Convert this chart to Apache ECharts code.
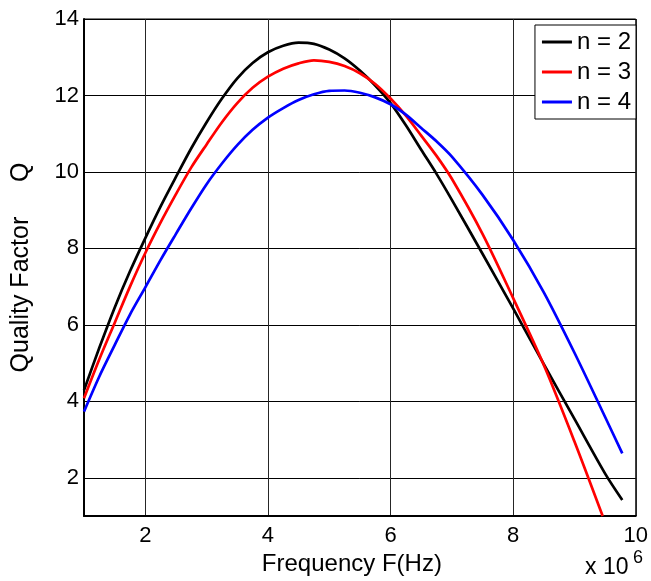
<!DOCTYPE html>
<html>
<head>
<meta charset="utf-8">
<script src="https://cdn.jsdelivr.net/npm/echarts@6/dist/echarts.min.js"></script>
<style>html,body{margin:0;padding:0;background:#fff;}#c{width:651px;height:581px;}</style>
</head>
<body>
<div id="c"></div>
<script>
// Frequency in units of 1e6 Hz
var freqN2 = [1, 1.25, 1.5, 1.75, 2, 2.25, 2.5, 2.75, 3, 3.25, 3.5, 3.75, 4, 4.25, 4.5, 4.75, 5, 5.25, 5.5, 5.75, 6, 6.25, 6.5, 6.75, 7, 7.5, 8, 8.5, 9, 9.5, 9.78];
var qN2    = [4.29, 5.4, 6.45, 7.4, 8.27, 9.1, 9.87, 10.62, 11.3, 11.92, 12.45, 12.85, 13.13, 13.3, 13.38, 13.35, 13.2, 12.97, 12.65, 12.26, 11.8, 11.22, 10.58, 9.95, 9.27, 7.86, 6.43, 4.97, 3.54, 2.11, 1.42];
var freqN3 = [1, 1.25, 1.5, 1.75, 2, 2.25, 2.5, 2.75, 3, 3.25, 3.5, 3.75, 4, 4.25, 4.5, 4.75, 5, 5.25, 5.5, 5.75, 6, 6.25, 6.5, 6.75, 7, 7.5, 8, 8.5, 9, 9.46];
var qN3    = [4.08, 5.1, 6.05, 7.0, 7.88, 8.68, 9.42, 10.12, 10.72, 11.3, 11.8, 12.2, 12.49, 12.7, 12.84, 12.92, 12.88, 12.77, 12.58, 12.3, 11.92, 11.47, 10.95, 10.42, 9.82, 8.38, 6.7, 4.95, 2.95, 1.0];
var freqN4 = [1, 1.25, 1.5, 1.75, 2, 2.25, 2.5, 2.75, 3, 3.25, 3.5, 3.75, 4, 4.25, 4.5, 4.75, 5, 5.25, 5.5, 5.75, 6, 6.25, 6.5, 6.75, 7, 7.5, 8, 8.5, 9, 9.5, 9.78];
var qN4    = [3.73, 4.65, 5.47, 6.27, 6.98, 7.7, 8.38, 9.05, 9.68, 10.22, 10.7, 11.1, 11.42, 11.67, 11.88, 12.03, 12.12, 12.13, 12.07, 11.95, 11.77, 11.5, 11.15, 10.8, 10.4, 9.4, 8.22, 6.85, 5.27, 3.59, 2.64];
var seriesNames = ['n = 2', 'n = 3', 'n = 4'];
var xTicks = [2, 4, 6, 8, 10];
var yTicks = [2, 4, 6, 8, 10, 12, 14];

function pairs(xs, ys) { return xs.map(function (x, i) { return [x, ys[i]]; }); }

var font = 'Liberation Sans, Arial, Helvetica, sans-serif';
var chart = echarts.init(document.getElementById('c'), null, {renderer: 'canvas'});
var lineSeries = function (name, data, color) {
  return {
    name: name, type: 'line', data: data, smooth: 0.3, showSymbol: false, symbol: 'none',
    lineStyle: {color: color, width: 2.7}, itemStyle: {color: color}, z: 3, animation: false
  };
};
chart.setOption({
  animation: false,
  backgroundColor: '#fff',
  textStyle: {fontFamily: font},
  grid: {left: 84, right: 11, top: 19, bottom: 65, show: true, borderColor: '#000', borderWidth: 1, containLabel: false},
  xAxis: {
    type: 'value', min: 1, max: 10,
    name: 'Frequency F(Hz)', nameLocation: 'middle', nameGap: 35,
    nameTextStyle: {fontSize: 24, color: '#000', fontFamily: font, padding: [0, 16, 0, 0]},
    axisLine: {show: true, onZero: false, lineStyle: {color: '#000', width: 2}},
    axisTick: {show: false, customValues: xTicks},
    axisLabel: {customValues: xTicks, fontSize: 22, color: '#000', margin: 9, fontFamily: font},
    splitLine: {show: true, lineStyle: {color: '#262626', width: 1}}
  },
  yAxis: {
    type: 'value', min: 1, max: 14,
    name: 'Quality Factor     Q', nameLocation: 'middle', nameGap: 50, nameRotate: 90,
    nameTextStyle: {fontSize: 25, color: '#000', fontFamily: font},
    axisLine: {show: true, onZero: false, lineStyle: {color: '#000', width: 2}},
    axisTick: {show: false, customValues: yTicks},
    axisLabel: {customValues: yTicks, fontSize: 22, color: '#000', margin: 5, fontFamily: font},
    splitLine: {show: true, lineStyle: {color: '#000', width: 1}}
  },
  legend: {
    orient: 'vertical', right: 15, top: 25,
    data: seriesNames,
    icon: 'rect', itemWidth: 30, itemHeight: 3, itemGap: 6,
    backgroundColor: '#fff', borderColor: '#000', borderWidth: 1, borderRadius: 0,
    padding: [5, 5, 5, 7],
    textStyle: {fontSize: 24, color: '#000', fontFamily: font}
  },
  graphic: [
    {type: 'text', left: 585, top: 556, style: {text: 'x 10', fontSize: 23, fill: '#000', fontFamily: font}},
    {type: 'text', left: 633, top: 549, style: {text: '6', fontSize: 18, fill: '#000', fontFamily: font}}
  ],
  series: [
    lineSeries(seriesNames[0], pairs(freqN2, qN2), '#000000'),
    lineSeries(seriesNames[1], pairs(freqN3, qN3), '#ff0000'),
    lineSeries(seriesNames[2], pairs(freqN4, qN4), '#0000ff')
  ]
});
</script>
</body>
</html>
